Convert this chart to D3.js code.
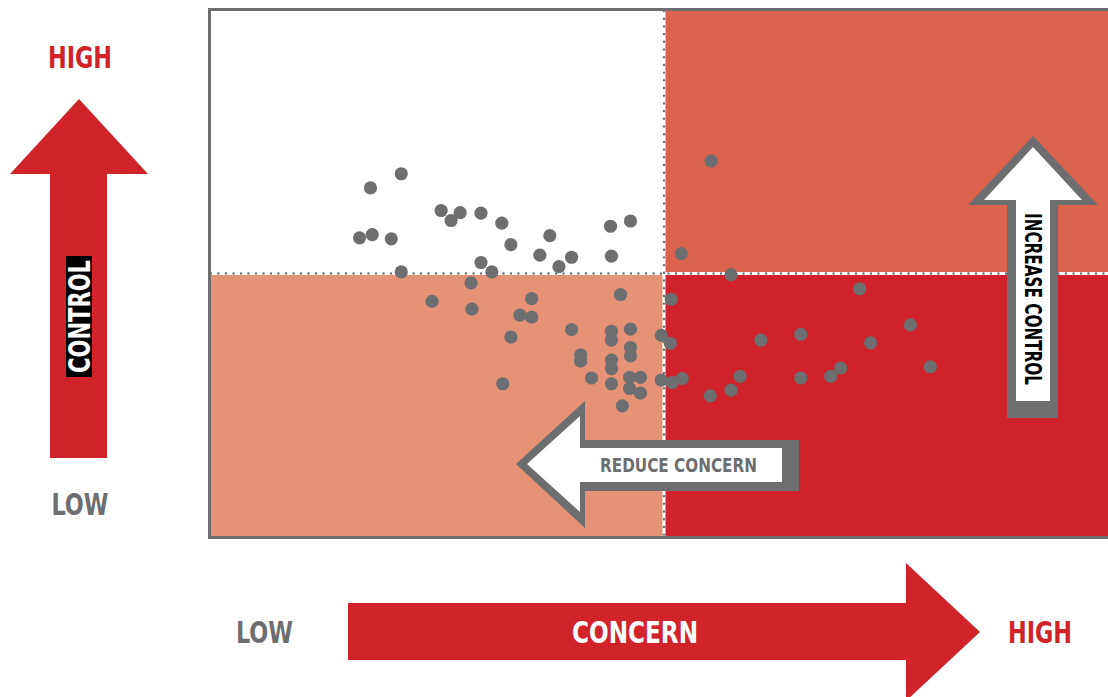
<!DOCTYPE html>
<html><head><meta charset="utf-8">
<script src="https://cdn.jsdelivr.net/npm/d3@7"></script>
<style>body{margin:0;background:#fff}svg{display:block}</style>
</head><body><svg id="c" width="1108" height="697"></svg>
<script>
// ---- data (concern = x, control = y), 0..100 scale, threshold at 50 ----
const concern = [17.6,21.0,16.4,17.8,19.9,25.4,26.5,27.5,29.8,32.1,33.1,37.4,36.3,38.4,39.8,44.1,46.3,44.2,
  21.0,29.8,31.0,28.7,24.4,28.8,35.4,34.1,35.4,33.1,45.2,39.8,44.2,44.2,46.3,46.3,46.3,40.8,40.8,44.2,44.2,
  42.0,44.2,46.2,47.4,46.2,47.4,45.4,32.2,50.8,49.7,50.7,49.7,50.9,55.2,51.9,57.4,71.6,60.7,65.1,72.8,77.2,
  79.4,52.0,58.4,57.4,55.1,65.1,68.4,69.5];
const control = [66.3,69.0,56.8,57.4,56.6,62.0,60.1,61.6,61.5,59.6,55.5,57.2,53.5,51.3,53.1,59.0,60.0,53.3,
  50.3,52.1,50.3,48.2,44.7,43.2,45.2,42.1,41.7,37.9,46.0,39.3,39.0,37.3,39.4,35.9,34.3,34.5,33.3,33.5,31.9,
  30.1,29.0,30.2,30.2,28.1,27.2,24.8,29.0,45.1,38.2,36.7,29.7,29.2,71.4,53.8,49.8,47.1,37.3,38.4,36.8,40.2,
  32.2,30.0,30.4,27.8,26.7,30.1,30.4,32.0];
const thresholds = [50, 50];               // concern, control
const quadrants = ["lowC_highK","highC_highK","lowC_lowK","highC_lowK"];
const quadColors = ["#ffffff","#DB634E","#E59277","#D0222B"];
const axisLabels = {x:"CONCERN", y:"CONTROL"};
const endLabels = ["LOW","HIGH"];
const actions = ["REDUCE CONCERN","INCREASE CONTROL"];

const RED = "#D1232A", GRAY = "#6D6E70";
const FONT = "'Liberation Sans Narrow','DejaVu Sans Condensed','Liberation Sans',Arial,sans-serif";

const svg = d3.select("#c");
const x = d3.scaleLinear().domain([0,100]).range([211,1117]);
const y = d3.scaleLinear().domain([0,100]).range([536,11]);
const mx = x(thresholds[0]), my = y(thresholds[1]);
const W = 1108;

// quadrants
const qrects = [
  {x0:x(0), x1:mx-1.5, y0:y(100), y1:my-1.5},
  {x0:mx+1.5, x1:W, y0:y(100), y1:my-1.5},
  {x0:x(0), x1:mx-1.5, y0:my+1.5, y1:y(0)},
  {x0:mx+1.5, x1:W, y0:my+1.5, y1:y(0)}
];
svg.selectAll("rect.q").data(qrects).join("rect").attr("class","q")
  .attr("x",d=>d.x0).attr("y",d=>d.y0).attr("width",d=>d.x1-d.x0).attr("height",d=>d.y1-d.y0)
  .attr("fill",(d,i)=>quadColors[i]);

// dotted dividers
svg.append("line").attr("x1",mx).attr("x2",mx).attr("y1",y(100)).attr("y2",y(0))
  .attr("stroke",GRAY).attr("stroke-width",2.4).attr("stroke-linecap","round").attr("stroke-dasharray","0,7.7");
svg.append("line").attr("x1",x(0)).attr("x2",W).attr("y1",my).attr("y2",my)
  .attr("stroke",GRAY).attr("stroke-width",2.4).attr("stroke-linecap","round").attr("stroke-dasharray","0,7.5");

// points
svg.selectAll("circle.p").data(concern.map((c,i)=>[c,control[i]])).join("circle").attr("class","p")
  .attr("cx",d=>x(d[0])).attr("cy",d=>y(d[1])).attr("r",6.6).attr("fill",GRAY);

// frame
svg.append("rect").attr("x",209.5).attr("y",9.5).attr("width",920).attr("height",528)
  .attr("fill","none").attr("stroke",GRAY).attr("stroke-width",3);

const line = d3.line();
// REDUCE CONCERN arrow
svg.append("path").attr("d",line([[516,464],[585,401],[585,440],[799,440],[799,491],[585,491],[585,528]])+"Z").attr("fill",GRAY);
svg.append("path").attr("d",line([[527,464],[580,416],[580,448],[782,448],[782,482],[580,482],[580,512]])+"Z").attr("fill","#fff");
svg.append("text").attr("x",678.5).attr("y",472).attr("text-anchor","middle")
  .attr("font-family",FONT).attr("font-weight","bold").attr("font-size",20).attr("fill",GRAY)
  .attr("textLength",157).attr("lengthAdjust","spacingAndGlyphs").text(actions[0]);

// INCREASE CONTROL arrow
svg.append("path").attr("d",line([[1033,136],[1098,205],[1058,205],[1058,418],[1007,418],[1007,205],[968,205]])+"Z").attr("fill",GRAY);
svg.append("path").attr("d",line([[1033,147],[1082,200],[1050,200],[1050,401],[1016,401],[1016,200],[984,200]])+"Z").attr("fill","#fff");
svg.append("text").attr("transform","translate(1025,299) rotate(90)").attr("text-anchor","middle")
  .attr("font-family",FONT).attr("font-weight","bold").attr("font-size",23).attr("fill","#000")
  .attr("textLength",172).attr("lengthAdjust","spacingAndGlyphs").text(actions[1]);

// vertical axis arrow (CONTROL)
svg.append("path").attr("d",line([[79,99],[148,174],[107,174],[107,458],[50,458],[50,174],[10,174]])+"Z").attr("fill",RED);
svg.append("rect").attr("x",66).attr("y",256).attr("width",26).attr("height",121).attr("fill","#000");
svg.append("text").attr("transform","translate(90,316.5) rotate(-90)").attr("text-anchor","middle")
  .attr("font-family",FONT).attr("font-weight","bold").attr("font-size",31).attr("fill","#fff")
  .attr("textLength",113).attr("lengthAdjust","spacingAndGlyphs").text(axisLabels.y);
svg.append("text").attr("x",80).attr("y",68).attr("text-anchor","middle")
  .attr("font-family",FONT).attr("font-weight","bold").attr("font-size",31).attr("fill",RED)
  .attr("textLength",64).attr("lengthAdjust","spacingAndGlyphs").text(endLabels[1]);
svg.append("text").attr("x",80).attr("y",515).attr("text-anchor","middle")
  .attr("font-family",FONT).attr("font-weight","bold").attr("font-size",31).attr("fill",GRAY)
  .attr("textLength",57).attr("lengthAdjust","spacingAndGlyphs").text(endLabels[0]);

// horizontal axis arrow (CONCERN)
svg.append("path").attr("d",line([[348,603],[906,603],[906,563],[980,632],[906,701],[906,660],[348,660]])+"Z").attr("fill",RED);
svg.append("text").attr("x",635).attr("y",643).attr("text-anchor","middle")
  .attr("font-family",FONT).attr("font-weight","bold").attr("font-size",31).attr("fill","#fff")
  .attr("textLength",126).attr("lengthAdjust","spacingAndGlyphs").text(axisLabels.x);
svg.append("text").attr("x",264.5).attr("y",643).attr("text-anchor","middle")
  .attr("font-family",FONT).attr("font-weight","bold").attr("font-size",31).attr("fill",GRAY)
  .attr("textLength",57).attr("lengthAdjust","spacingAndGlyphs").text(endLabels[0]);
svg.append("text").attr("x",1040).attr("y",643).attr("text-anchor","middle")
  .attr("font-family",FONT).attr("font-weight","bold").attr("font-size",31).attr("fill",RED)
  .attr("textLength",64).attr("lengthAdjust","spacingAndGlyphs").text(endLabels[1]);
</script></body></html>
